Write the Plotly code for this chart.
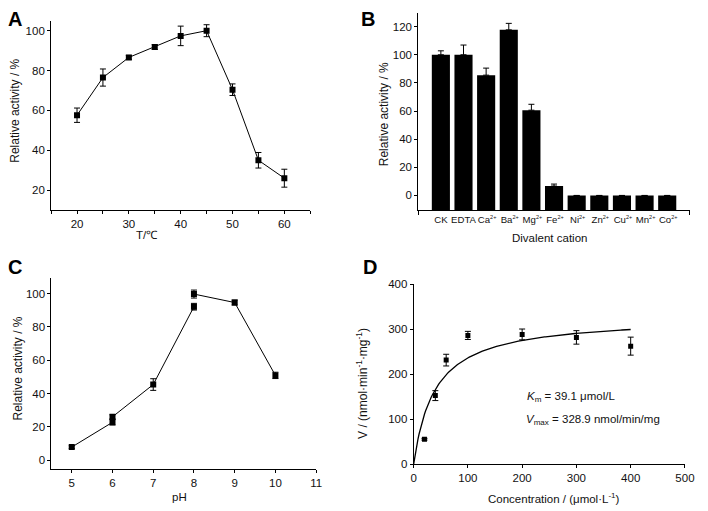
import plotly.graph_objects as go
import numpy as np

W, H = 708, 511

# ---------------- data ----------------
# A: temperature
temp = [20, 25, 30, 35, 40, 45, 50, 55, 60]
temp_act = [57.6, 76.5, 86.6, 91.8, 97.4, 100, 70.4, 35, 26]
temp_err = [3.6, 4.3, 1.0, 1.2, 4.9, 3.0, 2.9, 3.9, 4.5]

# B: divalent cations
cation_names = ["CK", "EDTA", "Ca", "Ba", "Mg", "Fe", "Ni", "Zn", "Cu", "Mn", "Co"]
cation_charge = ["", "", "2+", "2+", "2+", "2+", "2+", "2+", "2+", "2+", "2+"]
cation_act = [100, 100, 85.5, 117.7, 60.6, 6.7, 0, 0, 0, 0, 0]
cation_err = [2.8, 6.9, 5.0, 4.6, 4.2, 1.4, 0, 0, 0, 0, 0]

# C: pH (three buffer segments)
ph_1 = [5, 6]
act_1 = [7.8, 22.7]
err_1 = [0.8, 1.6]
ph_2 = [6, 7, 8]
act_2 = [26, 45.4, 92.2]
err_2 = [1.2, 3.5, 2.0]
ph_3 = [8, 9, 10]
act_3 = [99.8, 94.7, 50.9]
err_3 = [2.4, 1.5, 1.9]

# D: kinetics
conc = [20, 40, 60, 100, 200, 300, 400]
rate = [55.7, 152.6, 231.5, 286.4, 288.6, 282, 262.6]
rate_err = [2, 11, 13, 9, 12, 15, 20]
Km = 39.1
Vmax = 328.9

# ---------------- helpers ----------------
def fx(x):
    return x / W

def fy(y):
    return 1 - y / H

FONT = "Liberation Sans, Arial, sans-serif"
TXT = "#111111"
TICK = 11.5

cation_labels = [("\u2009" if c else "") + n +
                 (f"<sup><span style='font-size:5.5px'>{c}</span></sup>" if c else "")
                 for n, c in zip(cation_names, cation_charge)]

fig = go.Figure()

marker = dict(symbol="square", size=6, color="black")
line = dict(color="black", width=1)

def err(arr):
    return dict(type="data", array=arr, visible=True, color="black", thickness=1, width=3)

# A
fig.add_trace(go.Scatter(x=temp, y=temp_act, mode="lines+markers", marker=marker, line=line,
                         error_y=err(temp_err), xaxis="x", yaxis="y", showlegend=False))

# B  (bars rise from the bottom of the axis, as in the original)
B_YMIN = -10.4
idx = list(range(len(cation_names)))
fig.add_trace(go.Bar(x=idx, y=[v - B_YMIN for v in cation_act], base=B_YMIN, width=0.8,
                     marker=dict(color="black", line=dict(width=0)),
                     xaxis="x2", yaxis="y2", showlegend=False, hoverinfo="skip"))
fig.add_trace(go.Scatter(x=idx, y=cation_act, mode="markers", marker=dict(size=0.1, color="black", opacity=0),
                         error_y=dict(type="data", symmetric=False, array=cation_err,
                                      arrayminus=[0] * len(cation_err), visible=True,
                                      color="black", thickness=1, width=3),
                         xaxis="x2", yaxis="y2", showlegend=False))

# C
for xs, ys, es in [(ph_1, act_1, err_1), (ph_2, act_2, err_2), (ph_3, act_3, err_3)]:
    fig.add_trace(go.Scatter(x=xs, y=ys, mode="lines+markers", marker=marker, line=line,
                             error_y=err(es), xaxis="x3", yaxis="y3", showlegend=False))

# D
s_fit = np.linspace(0, max(conc), 200)
v_fit = Vmax * s_fit / (Km + s_fit)
fig.add_trace(go.Scatter(x=s_fit, y=v_fit, mode="lines", line=dict(color="black", width=1.3),
                         xaxis="x4", yaxis="y4", showlegend=False, hoverinfo="skip"))
fig.add_trace(go.Scatter(x=conc, y=rate, mode="markers", marker=dict(symbol="square", size=5, color="black"),
                         error_y=err(rate_err), xaxis="x4", yaxis="y4", showlegend=False))

# ---------------- axes ----------------
ax_common = dict(showline=True, linecolor="black", linewidth=1, ticks="outside", ticklen=3,
                 tickcolor="black", tickwidth=1, showgrid=False, zeroline=False,
                 ticklabeloverflow="allow", tickangle=0,
                 tickfont=dict(family=FONT, size=TICK, color=TXT))

fig.update_layout(
    xaxis=dict(ax_common, domain=[fx(49), fx(313)], anchor="y", range=[15, 65],
               tickmode="array", tickvals=[20, 30, 40, 50, 60],
               minor=dict(tickmode="array", tickvals=[15, 25, 35, 45, 55, 65], ticks="outside",
                          ticklen=3, tickcolor="black")),
    yaxis=dict(ax_common, domain=[fy(209), fy(15.7)], anchor="x", range=[10, 104.7],
               tickmode="array", tickvals=[20, 40, 60, 80, 100]),
    xaxis2=dict(ax_common, domain=[fx(423), fx(699.7)], anchor="y2", range=[-1, 11],
                tickmode="array", tickvals=idx, ticktext=cation_labels, ticks="",
                tickfont=dict(family=FONT, size=9.6, color=TXT),
                minor=dict(tickmode="array", tickvals=[-1, 11], ticks="outside", ticklen=4,
                           tickcolor="black")),
    yaxis2=dict(ax_common, domain=[fy(209), fy(6.7)], anchor="x2", range=[B_YMIN, 130],
                tickmode="array", tickvals=[0, 20, 40, 60, 80, 100, 120]),
    xaxis3=dict(ax_common, domain=[fx(49.3), fx(319)], anchor="y3", range=[4.5, 11],
                tickmode="array", tickvals=[5, 6, 7, 8, 9, 10, 11]),
    yaxis3=dict(ax_common, domain=[fy(474), fy(278.3)], anchor="x3", range=[-5.3, 109.6],
                tickmode="array", tickvals=[0, 20, 40, 60, 80, 100]),
    xaxis4=dict(ax_common, domain=[fx(418.3), fx(694.7)], anchor="y4", range=[0, 500],
                tickmode="array", tickvals=[0, 100, 200, 300, 400, 500]),
    yaxis4=dict(ax_common, domain=[fy(469.3), fy(285)], anchor="x4", range=[0, 400],
                tickmode="array", tickvals=[0, 100, 200, 300, 400]),
    width=W, height=H, margin=dict(l=0, r=0, t=0, b=0),
    paper_bgcolor="white", plot_bgcolor="white",
    font=dict(family=FONT, size=11, color=TXT),
)

# ---------------- text ----------------
def txt(x, y, s, size=11.5, angle=0, bold=False, xanchor="center"):
    fig.add_annotation(x=fx(x), y=fy(y), xref="paper", yref="paper", text=s, showarrow=False,
                       textangle=angle, xanchor=xanchor, yanchor="middle",
                       font=dict(family=FONT, size=size, color="black" if bold else TXT))

# panel letters
txt(12, 13, "<b>A</b>", size=20, bold=True)
txt(372, 13, "<b>B</b>", size=20, bold=True)
txt(12, 267, "<b>C</b>", size=20, bold=True)
txt(374, 267, "<b>D</b>", size=20, bold=True)

# axis titles
txt(12, 107.5, "Relative activity / %", size=12, angle=-90)
txt(147, 234.5, "T/℃")
txt(389, 111, "Relative activity / %", size=12, angle=-90)
txt(557, 238, "Divalent cation")
txt(15, 371.5, "Relative activity / %", size=12, angle=-90)
txt(180, 502.5, "pH")
txt(365.7, 386, "V / (nmol·min<sup>-1</sup>·mg<sup>-1</sup>)", size=12, angle=-90)
txt(561, 504, "Concentration / (μmol·L<sup>-1</sup>)")

# kinetic constants
txt(532, 400.7, "<i>K</i><sub>m</sub> = 39.1 μmol/L", xanchor="left")
txt(531, 424.3, "<i>V</i><sub>max</sub> = 328.9 nmol/min/mg", xanchor="left")

fig.write_html("out.html", config={"displayModeBar": False},
               post_script="document.body.style.margin='0px';document.body.style.overflow='hidden';")
